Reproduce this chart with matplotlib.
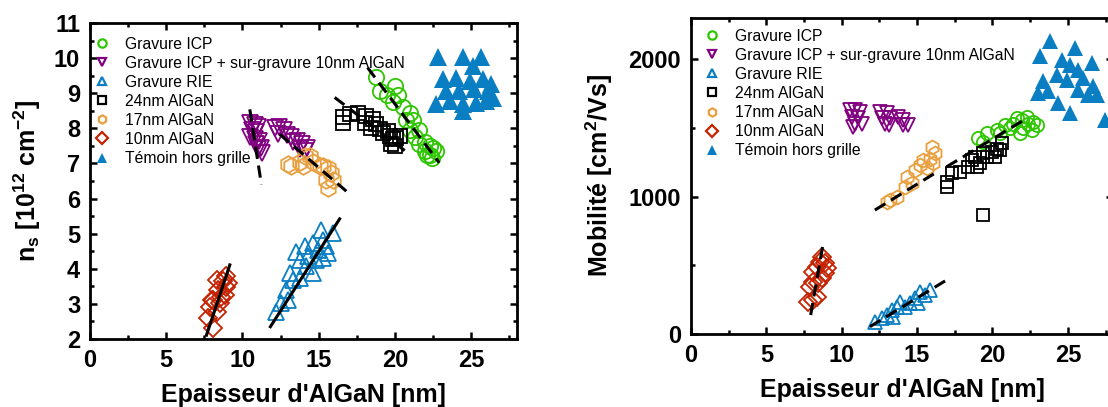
import matplotlib
matplotlib.use("Agg")
import matplotlib.pyplot as plt
from matplotlib.lines import Line2D
from matplotlib.ticker import MultipleLocator

plt.rcParams['font.family'] = ['Liberation Sans', 'DejaVu Sans']
plt.rcParams['mathtext.fontset'] = 'custom'
plt.rcParams['mathtext.rm'] = 'Liberation Sans:bold'
plt.rcParams['mathtext.bf'] = 'Liberation Sans:bold'
plt.rcParams['mathtext.it'] = 'Liberation Sans:bold'

# ---------------- Data: left panel (ns vs thickness) ----------------
ns_icp_x = [18.77, 19.0, 19.5, 20.2, 19.9, 20.5, 21.0, 21.2, 20.7, 21.0, 21.6, 21.3, 21.6, 22.0, 22.3, 22.0, 22.5, 22.3, 22.4, 22.1, 22.7, 20.0]
ns_icp_y = [9.45, 9.05, 8.95, 8.95, 8.75, 8.60, 8.45, 8.25, 8.25, 7.95, 7.95, 7.75, 7.55, 7.60, 7.50, 7.35, 7.45, 7.25, 7.15, 7.25, 7.35, 9.2]

ns_24_x = [16.59, 16.59, 17.03, 17.57, 18.12, 18.01, 18.55, 18.77, 18.45, 18.99, 19.21, 19.54, 19.65, 19.86, 20.08, 19.76, 19.97, 20.30]
ns_24_y = [8.31, 8.16, 8.40, 8.45, 8.35, 8.16, 8.26, 8.11, 8.02, 7.97, 7.88, 7.92, 7.78, 7.69, 7.73, 7.54, 7.49, 7.78]

ns_sur_x = [10.5, 10.8, 11.0, 10.6, 10.9, 10.5, 10.8, 11.1, 10.9, 11.2, 11.0, 11.3,
            12.1, 12.4, 12.7, 12.3, 12.9, 13.2, 13.6, 13.3, 13.9, 14.2, 13.8, 14.1]
ns_sur_y = [8.15, 8.10, 8.05, 7.95, 7.90, 7.75, 7.70, 7.65, 7.55, 7.45, 7.40, 7.30,
            8.00, 8.05, 7.95, 7.85, 7.80, 7.75, 7.65, 7.60, 7.55, 7.45, 7.40, 7.35]

ns_rie_x = [12.22, 12.55, 12.88, 13.31, 13.10, 13.75, 13.53, 14.08, 14.19, 14.62, 14.85, 14.95, 15.28, 15.17, 15.50, 15.93, 15.61, 14.62, 14.30, 13.0, 13.8, 15.3]
ns_rie_y = [2.78, 3.02, 3.40, 3.69, 3.88, 4.26, 4.49, 4.64, 4.07, 3.88, 4.26, 4.54, 4.83, 5.11, 4.64, 5.02, 4.45, 4.73, 4.35, 3.10, 3.75, 4.30]

ns_17_x = [12.99, 13.75, 14.40, 14.62, 15.27, 15.60, 15.83, 15.50, 15.60, 15.06, 13.96, 13.21, 15.93, 14.1]
ns_17_y = [6.97, 7.03, 7.21, 7.03, 6.92, 6.87, 6.73, 6.54, 6.31, 6.92, 6.92, 6.92, 6.54, 7.20]

ns_10_x = [7.75, 8.08, 7.86, 8.30, 8.08, 8.62, 8.40, 8.95, 8.73, 8.30, 9.06, 8.51, 8.84, 8.95, 7.97]
ns_10_y = [2.59, 2.31, 2.92, 2.78, 3.11, 3.21, 3.40, 3.49, 3.64, 3.69, 3.59, 3.02, 3.26, 3.78, 3.11]

ns_tem_x = [22.81, 24.45, 25.65, 25.10, 23.14, 24.01, 24.89, 25.76, 26.31, 23.36, 24.23, 25.21, 26.08, 22.70, 23.58, 24.45, 25.32, 25.98, 26.41, 24.45]
ns_tem_y = [10.02, 10.02, 10.02, 9.78, 9.40, 9.44, 9.35, 9.40, 9.26, 9.06, 9.06, 9.11, 9.06, 8.68, 8.78, 8.68, 8.73, 8.78, 8.87, 8.49]

# fit lines ([x0, x1], [y0, y1])
ns_fit_icp = ([18.2, 22.9], [9.73, 7.02])
ns_fit_24 = ([16.04, 20.96], [8.88, 7.26])
ns_fit_sur = ([10.48, 11.24], [8.54, 6.40])
ns_fit_17 = ([12.44, 16.81], [7.83, 6.21])
ns_fit_10 = ([7.64, 9.17], [2.11, 4.11])
ns_fit_rie = ([11.83, 16.37], [2.35, 5.42])

# ---------------- Data: right panel (mobility vs thickness) ----------------
mu_icp_x = [19.05, 19.39, 19.61, 20.27, 20.49, 20.82, 21.15, 21.37, 21.60, 21.93, 22.04, 22.37, 22.70, 22.92, 22.59, 21.82, 22.26]
mu_icp_y = [1423, 1399, 1460, 1484, 1460, 1520, 1496, 1532, 1569, 1556, 1496, 1532, 1544, 1520, 1484, 1460, 1580]

mu_24_x = [16.96, 16.96, 17.29, 17.84, 18.39, 18.61, 18.83, 19.16, 19.38, 19.94, 20.27, 20.49, 20.16, 18.95, 19.61, 20.60, 19.39]
mu_24_y = [1108, 1071, 1169, 1180, 1217, 1265, 1290, 1241, 1314, 1326, 1350, 1338, 1290, 1217, 1290, 1387, 865]

mu_sur_x = [10.54, 10.88, 11.21, 10.66, 11.10, 10.88, 11.32, 10.77,
            12.53, 12.98, 12.64, 13.20, 12.86, 13.75, 14.08, 14.41, 14.08, 13.15]
mu_sur_y = [1629, 1629, 1617, 1580, 1569, 1532, 1532, 1508,
            1617, 1605, 1569, 1569, 1532, 1580, 1556, 1520, 1520, 1520]

mu_rie_x = [12.20, 12.64, 12.98, 13.31, 13.64, 13.86, 14.19, 14.52, 14.85, 15.19, 15.52, 15.85, 15.07, 13.42]
mu_rie_y = [89, 114, 138, 175, 199, 235, 199, 223, 260, 308, 284, 320, 223, 126]

mu_17_x = [15.96, 16.18, 15.85, 15.40, 15.19, 16.07, 14.85, 15.63, 14.30, 14.63, 14.19, 13.64, 13.20, 12.98]
mu_17_y = [1362, 1314, 1277, 1265, 1229, 1241, 1193, 1205, 1144, 1096, 1071, 999, 975, 962]

mu_10_x = [7.78, 8.11, 8.34, 7.89, 8.11, 8.44, 8.67, 8.34, 8.55, 8.89, 8.67, 9.00, 8.89, 8.11]
mu_10_y = [235, 247, 271, 344, 380, 369, 405, 489, 526, 514, 562, 478, 441, 453]

mu_tem_x = [23.81, 25.46, 23.14, 24.58, 26.57, 25.13, 25.68, 24.25, 23.36, 24.91, 26.02, 23.03, 23.69, 25.68, 26.35, 26.90, 24.36, 25.13, 27.45, 26.68]
mu_tem_y = [2130, 2082, 2021, 1997, 1973, 1960, 1924, 1888, 1840, 1851, 1864, 1755, 1767, 1779, 1742, 1742, 1682, 1609, 1560, 1803]

mu_fit_10 = ([7.94, 8.77], [138, 660])
mu_fit_rie = ([11.87, 16.96], [53, 393])
mu_fit_17 = ([12.2, 16.3], [902, 1178])
mu_fit_24icp = ([16.96, 22.26], [1217, 1569])

labels = ["Gravure ICP", "Gravure ICP + sur-gravure 10nm AlGaN", "Gravure RIE",
          "24nm AlGaN", "17nm AlGaN", "10nm AlGaN", "Témoin hors grille"]

# ---------------- Styles ----------------
c_green = '#2ec600'
c_purple = '#800080'
c_blue = '#0a7ec2'
c_black = '#000000'
c_orange = '#e8a040'
c_red = '#c42200'

styles = [
    dict(marker='o', color=c_green, filled=False),
    dict(marker='v', color=c_purple, filled=False),
    dict(marker='^', color=c_blue, filled=False),
    dict(marker='s', color=c_black, filled=False),
    dict(marker='h', color=c_orange, filled=False),
    dict(marker='D', color=c_red, filled=False),
    dict(marker='^', color=c_blue, filled=True),
]

fig = plt.figure(figsize=(11.08, 4.07), dpi=100)
ax1 = fig.add_axes([0.0812, 0.1671, 0.3854, 0.7764])
ax2 = fig.add_axes([0.6236, 0.1794, 0.3810, 0.7764])


def scatter(ax, x, y, st, ms, mew=1.3):
    if st['filled']:
        ax.plot(x, y, ls='none', marker=st['marker'], ms=ms, mfc=st['color'],
                mec=st['color'], mew=0)
    else:
        ax.plot(x, y, ls='none', marker=st['marker'], ms=ms, mfc='none',
                mec=st['color'], mew=mew)


def fit(ax, line, ls):
    if ls == '-':
        ax.plot(line[0], line[1], color='k', lw=2.2, ls='-', zorder=5)
    else:
        ax.plot(line[0], line[1], color='k', lw=2.2, ls=(0, (4, 2.2)), zorder=5)


# left panel
left_series = [(ns_icp_x, ns_icp_y, 11), (ns_sur_x, ns_sur_y, 11), (ns_rie_x, ns_rie_y, 12),
               (ns_24_x, ns_24_y, 9.5), (ns_17_x, ns_17_y, 12), (ns_10_x, ns_10_y, 9.5),
               (ns_tem_x, ns_tem_y, 13)]
for (x, y, ms), st in zip(left_series, styles):
    scatter(ax1, x, y, st, ms)
fit(ax1, ns_fit_icp, '--')
fit(ax1, ns_fit_24, '--')
fit(ax1, ns_fit_sur, '--')
fit(ax1, ns_fit_17, '--')
fit(ax1, ns_fit_10, '-')
fit(ax1, ns_fit_rie, '-')

# right panel
right_series = [(mu_icp_x, mu_icp_y, 9.5), (mu_sur_x, mu_sur_y, 10), (mu_rie_x, mu_rie_y, 10),
                (mu_24_x, mu_24_y, 8.5), (mu_17_x, mu_17_y, 10), (mu_10_x, mu_10_y, 9),
                (mu_tem_x, mu_tem_y, 12)]
for (x, y, ms), st in zip(right_series, styles):
    scatter(ax2, x, y, st, ms)
fit(ax2, mu_fit_10, '--')
fit(ax2, mu_fit_rie, '--')
fit(ax2, mu_fit_17, '--')
fit(ax2, mu_fit_24icp, '--')

# axes formatting
ax1.set_xlim(0, 28)
ax1.set_ylim(2, 11)
ax2.set_xlim(0, 28)
ax2.set_ylim(0, 2300)

for ax in (ax1, ax2):
    ax.xaxis.set_major_locator(MultipleLocator(5))
    ax.xaxis.set_minor_locator(MultipleLocator(2.5))
    for sp in ax.spines.values():
        sp.set_linewidth(2)
    ax.tick_params(which='both', direction='in', width=1.8, top=True, right=True,
                   labelsize=17, pad=7)
    ax.tick_params(which='major', length=5)
    ax.tick_params(which='minor', length=3)
    for lab in ax.get_xticklabels() + ax.get_yticklabels():
        lab.set_fontweight('bold')
    ax.set_xlabel("Epaisseur d'AlGaN [nm]", fontsize=18, fontweight='bold', labelpad=8)

ax1.yaxis.set_major_locator(MultipleLocator(1))
ax1.yaxis.set_minor_locator(MultipleLocator(0.5))
ax2.yaxis.set_major_locator(MultipleLocator(1000))
ax2.yaxis.set_minor_locator(MultipleLocator(500))

ax1.set_ylabel(r"n$_\mathregular{s}$ [10$^\mathregular{12}$ cm$^\mathregular{-2}$]", fontsize=18,
               fontweight='bold', labelpad=8)
ax2.set_ylabel("Mobilité [cm$^\\mathregular{2}$/Vs]", fontsize=18, fontweight='bold', labelpad=10)

# legends
handles = []
for st in styles:
    if st['filled']:
        h = Line2D([], [], ls='none', marker=st['marker'], ms=7, mfc=st['color'], mec=st['color'], mew=0)
    else:
        h = Line2D([], [], ls='none', marker=st['marker'], ms=6, mfc='none', mec=st['color'], mew=1.6)
    handles.append(h)

for ax, anchor in ((ax1, (0.002, 0.967)), (ax2, (0.024, 0.976))):
    ax.legend(handles, labels, loc='upper left', bbox_to_anchor=anchor, frameon=False,
              fontsize=11.3, labelspacing=0.26, handlelength=1.0, handletextpad=0.95,
              borderaxespad=0, borderpad=0.2)

fig.savefig("out.png", dpi=100)
